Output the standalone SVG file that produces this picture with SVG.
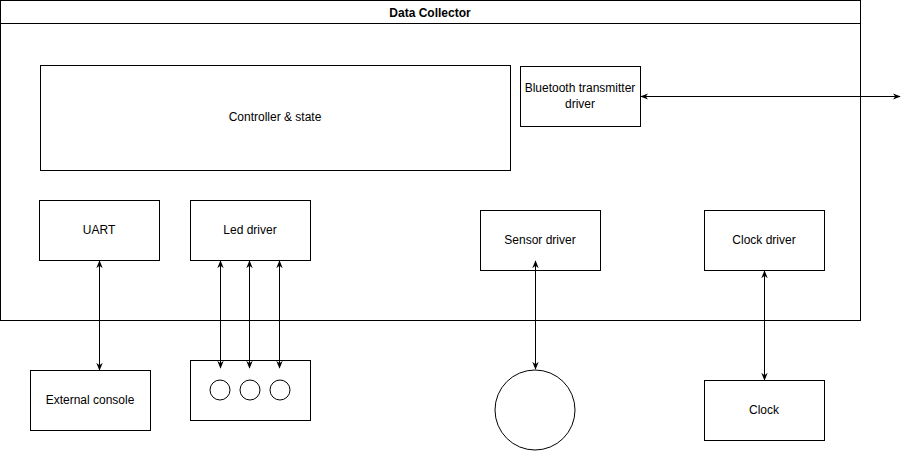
<svg xmlns="http://www.w3.org/2000/svg" width="910" height="451" viewBox="0 0 910 451">
<style>
.b{fill:#fff;stroke:#000;stroke-width:1}
.t{font-family:"Liberation Sans",Arial,sans-serif;font-size:12px;fill:#000;text-anchor:middle;dominant-baseline:central}
.c{stroke:#000;stroke-width:1;fill:none;marker-start:url(#a);marker-end:url(#a)}
</style>
<defs>
<marker id="a" viewBox="0 0 10 10" refX="9" refY="5" markerWidth="8" markerHeight="8" orient="auto-start-reverse" markerUnits="userSpaceOnUse">
<path d="M0,1 L10,5 L0,9 L3,5 Z" fill="#000"/>
</marker>
</defs>
<rect width="910" height="451" fill="#fff"/>
<g id="data-collector">
<rect class="b" x="0.5" y="0.5" width="860" height="320"/>
<line x1="0.5" y1="23.5" x2="860.5" y2="23.5" stroke="#000"/>
<text class="t" x="430" y="13" font-weight="bold">Data Collector</text>
</g>
<g id="controller">
<rect class="b" x="40.5" y="65.5" width="470" height="105"/>
<text class="t" x="275" y="117">Controller &amp; state</text>
</g>
<g id="bluetooth">
<rect class="b" x="520.5" y="66.5" width="120" height="60"/>
<text class="t" x="580" y="88">Bluetooth transmitter</text>
<text class="t" x="580" y="104">driver</text>
</g>
<g id="uart">
<rect class="b" x="39.5" y="200.5" width="120" height="60"/>
<text class="t" x="99" y="230">UART</text>
</g>
<g id="led-driver">
<rect class="b" x="190.5" y="200.5" width="120" height="60"/>
<text class="t" x="250" y="230">Led driver</text>
</g>
<g id="sensor-driver">
<rect class="b" x="480.5" y="210.5" width="120" height="60"/>
<text class="t" x="540" y="240">Sensor driver</text>
</g>
<g id="clock-driver">
<rect class="b" x="704.5" y="210.5" width="120" height="60"/>
<text class="t" x="764" y="240">Clock driver</text>
</g>
<g id="external-console">
<rect class="b" x="30.5" y="370.5" width="120" height="60"/>
<text class="t" x="90" y="400">External console</text>
</g>
<g id="leds">
<rect class="b" x="190.5" y="360.5" width="120" height="60"/>
<circle class="b" cx="220" cy="390" r="10"/>
<circle class="b" cx="250" cy="390" r="10"/>
<circle class="b" cx="280" cy="390" r="10"/>
</g>
<g id="sensor">
<circle class="b" cx="535" cy="410" r="40"/>
</g>
<g id="clock">
<rect class="b" x="704.5" y="380.5" width="120" height="60"/>
<text class="t" x="764" y="410">Clock</text>
</g>
<g id="connectors">
<line class="c" x1="641" y1="96.5" x2="900" y2="96.5"/>
<line class="c" x1="99.5" y1="261" x2="99.5" y2="370"/>
<line class="c" x1="220.5" y1="261" x2="220.5" y2="368"/>
<line class="c" x1="249.5" y1="261" x2="249.5" y2="368"/>
<line class="c" x1="279.5" y1="261" x2="279.5" y2="368"/>
<line class="c" x1="535.5" y1="261" x2="535.5" y2="369"/>
<line class="c" x1="764.5" y1="271" x2="764.5" y2="380"/>
</g>
</svg>
